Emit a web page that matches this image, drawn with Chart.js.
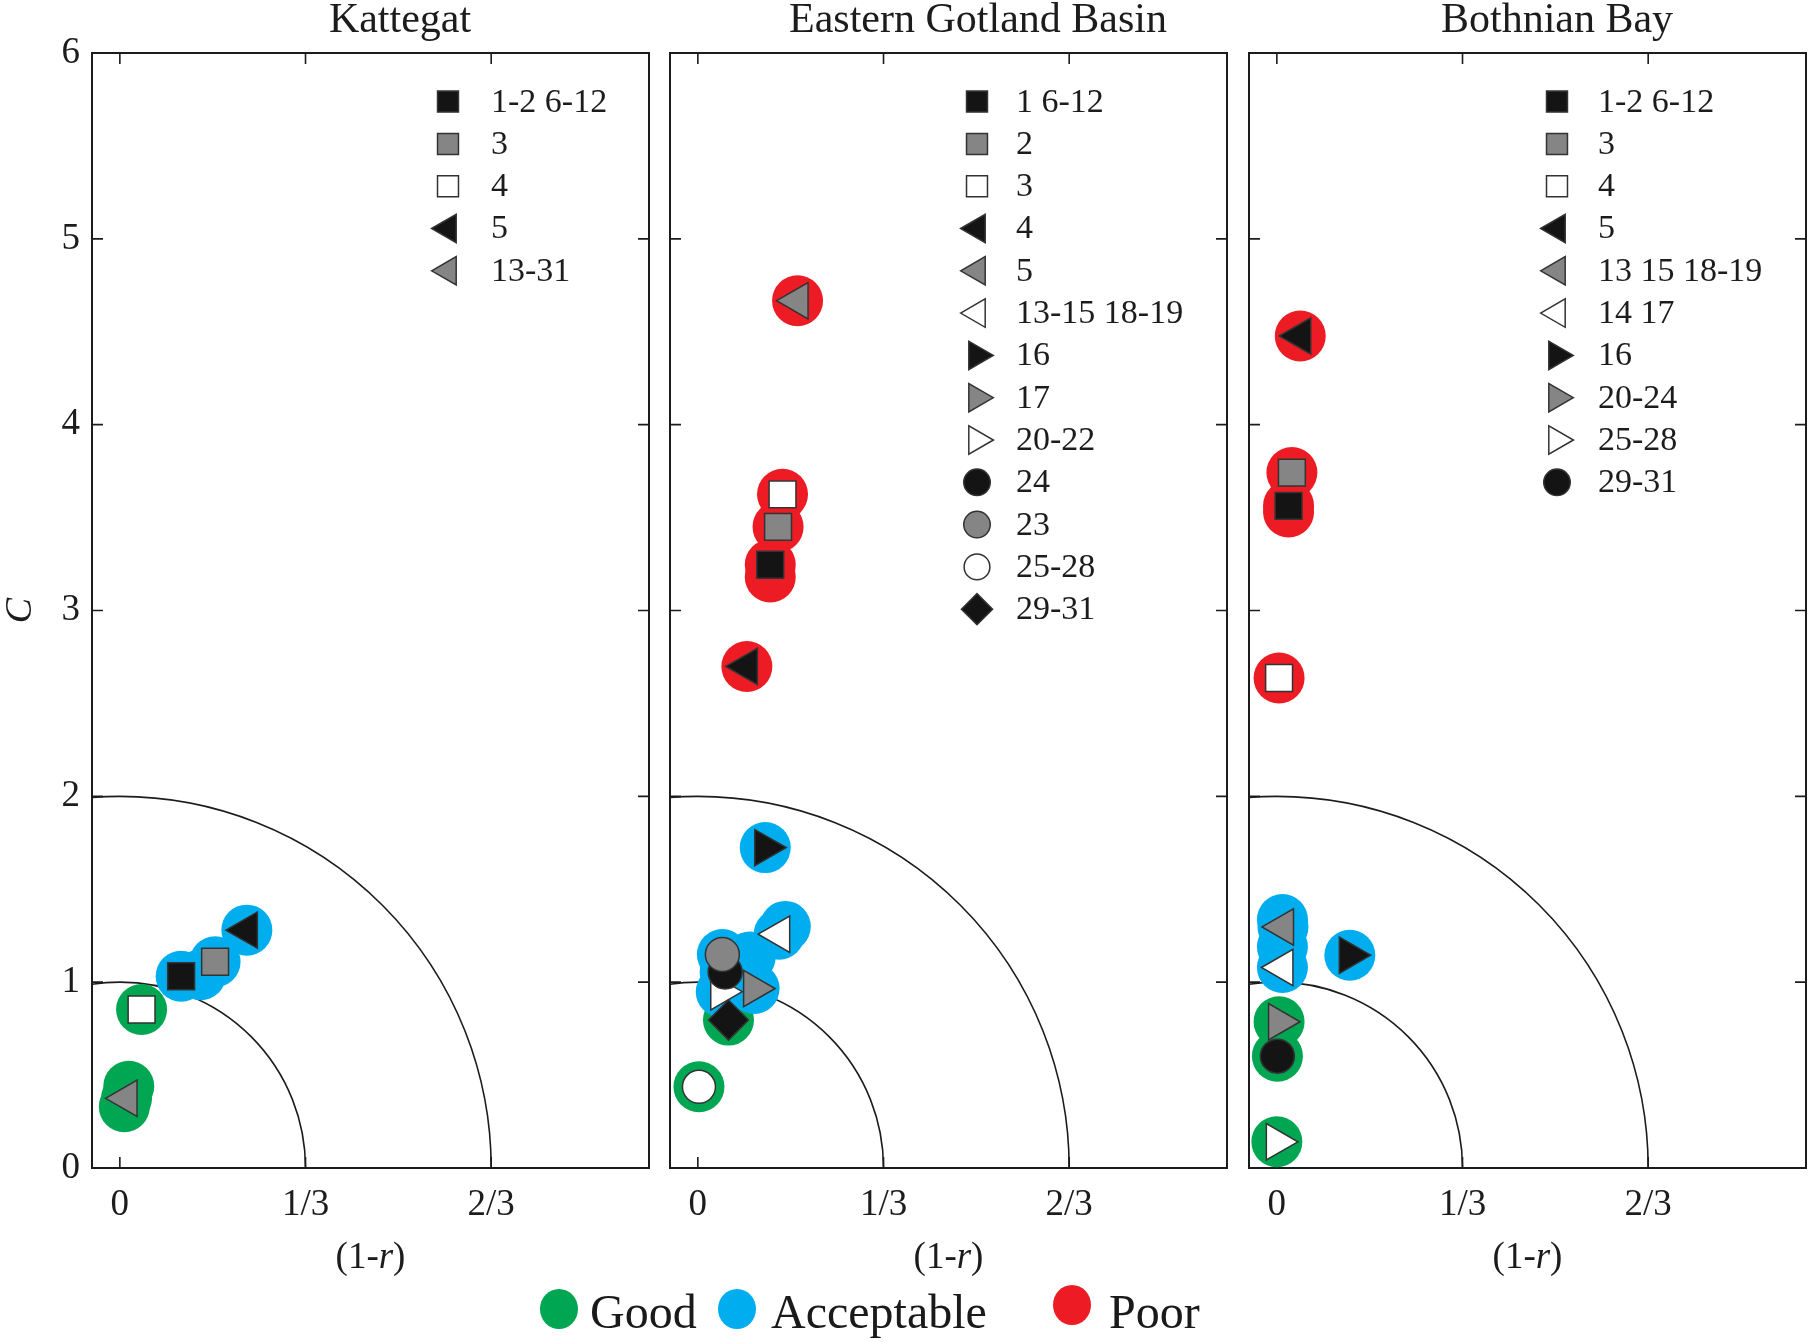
<!DOCTYPE html>
<html>
<head>
<meta charset="utf-8">
<title>Target diagrams</title>
<script src="https://cdn.jsdelivr.net/npm/chart.js@4.4.1/dist/chart.umd.min.js"></script>
<style>
  html, body { margin:0; padding:0; background:#fff; }
  body { width:1810px; height:1342px; position:relative; overflow:hidden;
         font-family:'Liberation Serif','Times New Roman',serif; color:#1a1a1a; }
  canvas { position:absolute; top:0; }
  .sl-dot { position:absolute; width:38px; height:40px; border-radius:50%; }
  .sl-txt { position:absolute; font-size:48px; line-height:48px; white-space:nowrap; }
</style>
</head>
<body>
<canvas id="panel0" width="655" height="1290" style="left:0px"></canvas>
<canvas id="panel1" width="655" height="1290" style="left:578px"></canvas>
<canvas id="panel2" width="653" height="1290" style="left:1157px"></canvas>
<div id="statusLegend"></div>
<script>
// ================= DATA =================
const panelTitles = ['Kattegat', 'Eastern Gotland Basin', 'Bothnian Bay'];
const xTickValues = [0, 1/3, 2/3];
const xTickLabels = ['0', '1/3', '2/3'];
const yTickValues = [0, 1, 2, 3, 4, 5, 6];
const xTitleParts = ['(1-', 'r', ')'];
const yTitle = 'C';
const arcC = [1, 2];        // reference arcs: intercept on C axis
const arcR = [1/3, 2/3];    // reference arcs: intercept on (1-r) axis
const statusLabels = ['Good', 'Acceptable', 'Poor'];

// Kattegat
const katSeries = ['1-2 6-12', '3', '4', '5', '13-31'];
const katX = [0.110, 0.171, 0.039, 0.228, 0.012];
const katY = [1.032, 1.110, 0.853, 1.280, 0.375];
const katStatus = ['Acceptable', 'Acceptable', 'Good', 'Acceptable', 'Good'];
const katExtraX = [0.145, 0.016, 0.008];
const katExtraY = [1.040, 0.440, 0.330];
const katExtraStatus = ['Acceptable', 'Good', 'Good'];

// Eastern Gotland Basin
const egbSeries = ['1 6-12', '2', '3', '4', '5', '13-15 18-19', '16', '17', '20-22', '24', '23', '25-28', '29-31'];
const egbX = [0.130, 0.144, 0.152, 0.088, 0.179, 0.146, 0.121, 0.101, 0.042, 0.049, 0.044, 0.002, 0.055];
const egbY = [3.246, 3.450, 3.625, 2.699, 4.667, 1.258, 1.724, 0.966, 0.949, 1.055, 1.149, 0.437, 0.796];
const egbStatus = ['Poor', 'Poor', 'Poor', 'Poor', 'Poor', 'Acceptable', 'Acceptable', 'Acceptable',
                   'Acceptable', 'Acceptable', 'Acceptable', 'Good', 'Good'];
const egbExtraX = [0.130, 0.157, 0.094];
const egbExtraY = [3.180, 1.300, 1.136];
const egbExtraStatus = ['Poor', 'Acceptable', 'Acceptable'];

// Bothnian Bay
const bbSeries = ['1-2 6-12', '3', '4', '5', '13 15 18-19', '14 17', '16', '20-24', '25-28', '29-31'];
const bbX = [0.021, 0.027, 0.004, 0.042, 0.011, 0.010, 0.131, 0.004, 0.000, 0.001];
const bbY = [3.563, 3.742, 2.637, 4.477, 1.297, 1.079, 1.145, 0.787, 0.141, 0.602];
const bbStatus = ['Poor', 'Poor', 'Poor', 'Poor', 'Acceptable', 'Acceptable', 'Acceptable', 'Good', 'Good', 'Good'];
const bbExtraX = [0.021, 0.010, 0.010];
const bbExtraY = [3.530, 1.337, 1.190];
const bbExtraStatus = ['Poor', 'Acceptable', 'Acceptable'];

// ================= STYLES =================
const FONT = "'Liberation Serif', 'Times New Roman', serif";
const INK = '#1c1c1c';
const STATUS_COLORS = { Good: '#00A651', Acceptable: '#00AEEF', Poor: '#ED1C24' };
const STATUS_ORDER = { Good: 103, Acceptable: 102, Poor: 101 };
const HALO_RADIUS = 25.5;
const MARKER_BORDER = '#333333';
const BLACK = '#141414', GRAY = '#858585', WHITE = '#ffffff';
const SYMBOL_STYLES = {
  sqBlack:   { pointStyle: 'rect', rotation: 0, radius: 19, fill: BLACK },
  sqGray:    { pointStyle: 'rect', rotation: 0, radius: 19, fill: GRAY },
  sqWhite:   { pointStyle: 'rect', rotation: 0, radius: 19, fill: WHITE },
  triLBlack: { pointStyle: 'triangle', rotation: -90, radius: 21, fill: BLACK },
  triLGray:  { pointStyle: 'triangle', rotation: -90, radius: 21, fill: GRAY },
  triLWhite: { pointStyle: 'triangle', rotation: -90, radius: 21, fill: WHITE },
  triRBlack: { pointStyle: 'triangle', rotation: 90, radius: 21, fill: BLACK },
  triRGray:  { pointStyle: 'triangle', rotation: 90, radius: 21, fill: GRAY },
  triRWhite: { pointStyle: 'triangle', rotation: 90, radius: 21, fill: WHITE },
  cirBlack:  { pointStyle: 'circle', rotation: 0, radius: 17, fill: BLACK },
  cirGray:   { pointStyle: 'circle', rotation: 0, radius: 17, fill: GRAY },
  cirWhite:  { pointStyle: 'circle', rotation: 0, radius: 16.5, fill: WHITE },
  diaBlack:  { pointStyle: 'rectRot', rotation: 0, radius: 20, fill: BLACK }
};
const katSymbols = ['sqBlack', 'sqGray', 'sqWhite', 'triLBlack', 'triLGray'];
const egbSymbols = ['sqBlack', 'sqGray', 'sqWhite', 'triLBlack', 'triLGray', 'triLWhite', 'triRBlack',
                    'triRGray', 'triRWhite', 'cirBlack', 'cirGray', 'cirWhite', 'diaBlack'];
const bbSymbols = ['sqBlack', 'sqGray', 'sqWhite', 'triLBlack', 'triLGray', 'triLWhite', 'triRBlack',
                   'triRGray', 'triRWhite', 'cirBlack'];

// layout (pixels)
const CANVAS_H = 1290;
const AREA_LEFT = 92, AREA_TOP = 53, AREA_W = 557, AREA_BOTTOM = 1168;
const LEGEND_ROW0 = 48.6, LEGEND_STEP = 42.3, LEGEND_SCALE = 0.78;
const TITLE_ANCHOR = 0.503;   // titles sit centred over this (1-r) position

Chart.defaults.font.family = FONT;
Chart.defaults.color = INK;

function drawSymbol(ctx, st, x, y, scale) {
  ctx.save();
  ctx.fillStyle = st.fill;
  ctx.strokeStyle = MARKER_BORDER;
  ctx.lineWidth = 1.5;
  Chart.helpers.drawPoint(ctx, { pointStyle: st.pointStyle, rotation: st.rotation,
    radius: st.radius * scale, borderWidth: 1.5 }, x, y);
  ctx.restore();
}

const panelDecor = {
  id: 'panelDecor',
  beforeDatasetsDraw(chart, args, opts) {
    const { ctx, chartArea: a, scales: { x, y } } = chart;
    ctx.save();
    // reference arcs
    ctx.beginPath();
    ctx.rect(a.left, a.top, a.right - a.left, a.bottom - a.top);
    ctx.clip();
    ctx.strokeStyle = INK;
    ctx.lineWidth = 1.6;
    const cx = x.getPixelForValue(0), cy = y.getPixelForValue(0);
    arcC.forEach((c, i) => {
      const rx = x.getPixelForValue(arcR[i]) - cx;
      const ry = cy - y.getPixelForValue(c);
      ctx.beginPath();
      ctx.ellipse(cx, cy, rx, ry, 0, 0, Math.PI * 2);
      ctx.stroke();
    });
    ctx.restore();
    // frame
    ctx.save();
    ctx.strokeStyle = INK;
    ctx.lineWidth = 2;
    ctx.strokeRect(a.left, a.top, a.right - a.left, a.bottom - a.top);
    // inward ticks on all sides
    const tl = 11;
    ctx.lineWidth = 1.6;
    ctx.beginPath();
    xTickValues.forEach(v => {
      const px = x.getPixelForValue(v);
      ctx.moveTo(px, a.bottom); ctx.lineTo(px, a.bottom - tl);
      ctx.moveTo(px, a.top); ctx.lineTo(px, a.top + tl);
    });
    yTickValues.forEach(v => {
      const py = y.getPixelForValue(v);
      ctx.moveTo(a.left, py); ctx.lineTo(a.left + tl, py);
      ctx.moveTo(a.right, py); ctx.lineTo(a.right - tl, py);
    });
    ctx.stroke();
    ctx.restore();
  },
  afterDraw(chart, args, opts) {
    const { ctx, chartArea: a, scales: { x } } = chart;
    const midX = (a.left + a.right) / 2;
    ctx.save();
    ctx.fillStyle = INK;
    // panel title
    ctx.font = `42px ${FONT}`;
    ctx.textAlign = 'center';
    ctx.textBaseline = 'alphabetic';
    ctx.fillText(opts.title, x.getPixelForValue(TITLE_ANCHOR), 32);
    // x axis title "(1-r)" with italic r
    const fN = `37px ${FONT}`, fI = `italic 37px ${FONT}`;
    const fonts = [fN, fI, fN];
    let total = 0;
    const widths = xTitleParts.map((t, i) => { ctx.font = fonts[i]; const w = ctx.measureText(t).width; total += w; return w; });
    let tx = midX - total / 2;
    ctx.textAlign = 'left';
    xTitleParts.forEach((t, i) => { ctx.font = fonts[i]; ctx.fillText(t, tx, 1268); tx += widths[i]; });
    // in-plot legend
    ctx.font = `34px ${FONT}`;
    ctx.textBaseline = 'middle';
    opts.series.forEach((label, i) => {
      const ry = a.top + LEGEND_ROW0 + i * LEGEND_STEP;
      drawSymbol(ctx, SYMBOL_STYLES[opts.symbols[i]], a.left + opts.markerDx, ry, LEGEND_SCALE);
      ctx.fillStyle = INK;
      ctx.fillText(label, a.left + opts.textDx, ry + 1);
    });
    ctx.restore();
  }
};

function buildPanel(id, cfg) {
  const canvas = document.getElementById(id);
  const W = canvas.width;
  const datasets = [];
  // status halos (coloured discs behind each marker)
  statusLabels.forEach(s => {
    const pts = [];
    cfg.xs.forEach((v, i) => { if (cfg.status[i] === s) pts.push({ x: v, y: cfg.ys[i] }); });
    cfg.exX.forEach((v, i) => { if (cfg.exStatus[i] === s) pts.push({ x: v, y: cfg.exY[i] }); });
    datasets.push({
      label: s, data: pts, order: STATUS_ORDER[s],
      pointStyle: 'circle', pointRadius: HALO_RADIUS, pointHoverRadius: HALO_RADIUS,
      backgroundColor: STATUS_COLORS[s], borderWidth: 0, pointBorderWidth: 0
    });
  });
  // symbol markers
  cfg.series.forEach((label, i) => {
    const st = SYMBOL_STYLES[cfg.symbols[i]];
    datasets.push({
      label, data: [{ x: cfg.xs[i], y: cfg.ys[i] }], order: -i,
      pointStyle: st.pointStyle, rotation: st.rotation,
      pointRadius: st.radius, pointHoverRadius: st.radius,
      backgroundColor: st.fill, borderColor: MARKER_BORDER, pointBorderWidth: 1.5, borderWidth: 1.5
    });
  });
  return new Chart(canvas, {
    type: 'scatter',
    data: { datasets },
    options: {
      responsive: false, maintainAspectRatio: false, animation: false, events: [],
      layout: { autoPadding: false,
                padding: { left: 0, top: AREA_TOP, right: W - AREA_LEFT - AREA_W, bottom: 0 } },
      plugins: {
        legend: { display: false }, tooltip: { enabled: false }, title: { display: false },
        panelDecor: { title: cfg.title, series: cfg.series, symbols: cfg.symbols,
                      markerDx: cfg.markerDx, textDx: cfg.textDx }
      },
      scales: {
        x: {
          type: 'linear', min: -0.05, max: 0.95,
          grid: { display: false, drawTicks: false }, border: { display: false },
          afterBuildTicks: s => { s.ticks = xTickValues.map(v => ({ value: v })); },
          ticks: { padding: 15, font: { size: 37 }, color: INK, autoSkip: false, maxRotation: 0,
                   callback: (v, i) => xTickLabels[i] },
          afterFit: s => { s.height = CANVAS_H - AREA_BOTTOM; }
        },
        y: {
          type: 'linear', min: 0, max: 6,
          grid: { display: false, drawTicks: false }, border: { display: false },
          afterBuildTicks: s => { s.ticks = yTickValues.map(v => ({ value: v })); },
          ticks: { display: cfg.showY, padding: 12, font: { size: 37 }, color: INK,
                   callback: v => String(v) },
          title: { display: cfg.showY, text: yTitle, color: INK,
                   font: { size: 38, style: 'italic', lineHeight: 1.1 }, padding: { top: 0, bottom: 0 } },
          afterFit: s => { s.width = AREA_LEFT; }
        }
      }
    },
    plugins: [panelDecor]
  });
}

buildPanel('panel0', { title: panelTitles[0], series: katSeries, symbols: katSymbols,
  xs: katX, ys: katY, status: katStatus, exX: katExtraX, exY: katExtraY, exStatus: katExtraStatus,
  showY: true, markerDx: 356, textDx: 399 });
buildPanel('panel1', { title: panelTitles[1], series: egbSeries, symbols: egbSymbols,
  xs: egbX, ys: egbY, status: egbStatus, exX: egbExtraX, exY: egbExtraY, exStatus: egbExtraStatus,
  showY: false, markerDx: 307, textDx: 346 });
buildPanel('panel2', { title: panelTitles[2], series: bbSeries, symbols: bbSymbols,
  xs: bbX, ys: bbY, status: bbStatus, exX: bbExtraX, exY: bbExtraY, exStatus: bbExtraStatus,
  showY: false, markerDx: 308, textDx: 349 });

// shared status legend (HTML)
const statusLegendPos = { Good: [559, 1309, 590], Acceptable: [737, 1309, 771], Poor: [1072, 1305, 1109] };
const sl = document.getElementById('statusLegend');
statusLabels.forEach(s => {
  const [cx, cy, tx] = statusLegendPos[s];
  const dot = document.createElement('div');
  dot.className = 'sl-dot';
  dot.style.left = (cx - 19) + 'px';
  dot.style.top = (cy - 20) + 'px';
  dot.style.background = STATUS_COLORS[s];
  sl.appendChild(dot);
  const t = document.createElement('div');
  t.className = 'sl-txt';
  t.style.left = tx + 'px';
  t.style.top = '1288px';
  t.textContent = s;
  sl.appendChild(t);
});
</script>
</body>
</html>
